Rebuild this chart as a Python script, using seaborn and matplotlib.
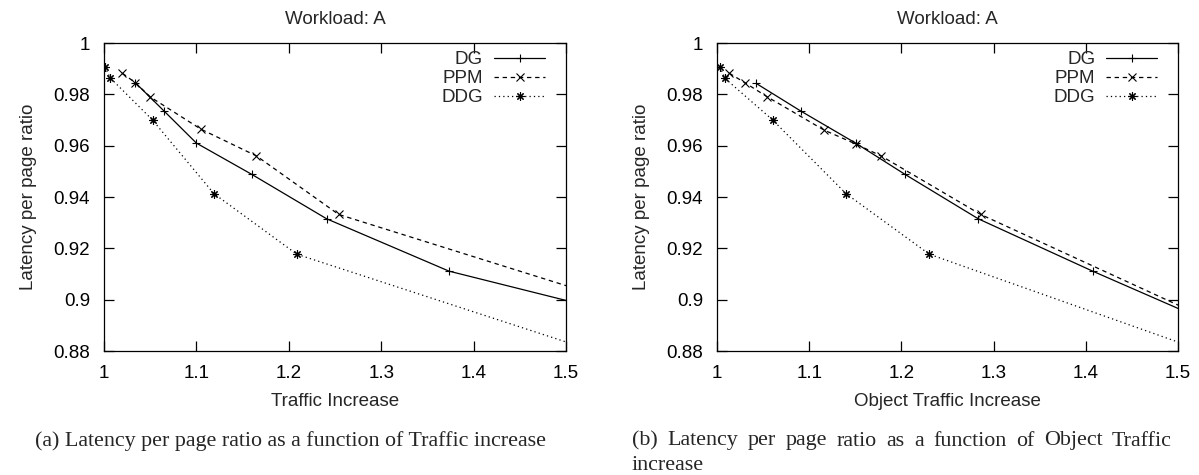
import matplotlib
matplotlib.use('Agg')
import matplotlib.pyplot as plt
import seaborn as sns
from matplotlib.ticker import FuncFormatter

# Workload A, latency per page ratio vs traffic increase
tr_dg_x = [1.034, 1.065, 1.100, 1.160, 1.241, 1.3735, 1.60]
tr_dg_y = [0.9845, 0.9735, 0.961, 0.9488, 0.9315, 0.9111, 0.8907]
tr_ppm_x = [1.020, 1.034, 1.050, 1.105, 1.165, 1.254, 1.60]
tr_ppm_y = [0.9882, 0.9845, 0.979, 0.9664, 0.956, 0.9332, 0.8942]
tr_ddg_x = [1.001, 1.0065, 1.0525, 1.119, 1.2087, 1.60]
tr_ddg_y = [0.9908, 0.9865, 0.970, 0.9413, 0.9177, 0.8718]

# Workload A, latency per page ratio vs object traffic increase
ob_dg_x = [1.0423, 1.0908, 1.1508, 1.204, 1.2834, 1.4075, 1.60]
ob_dg_y = [0.9843, 0.9735, 0.9609, 0.9488, 0.9315, 0.9111, 0.8809]
ob_ppm_x = [1.0134, 1.0304, 1.0546, 1.116, 1.1508, 1.178, 1.286, 1.60]
ob_ppm_y = [0.9882, 0.9845, 0.979, 0.9661, 0.9606, 0.956, 0.9332, 0.8814]
ob_ddg_x = [1.003, 1.0087, 1.0604, 1.14, 1.2303, 1.60]
ob_ddg_y = [0.9908, 0.9862, 0.970, 0.9413, 0.9177, 0.8708]

x_ticks = [1, 1.1, 1.2, 1.3, 1.4, 1.5]
y_ticks = [0.88, 0.9, 0.92, 0.94, 0.96, 0.98, 1]
series_names = ['DG', 'PPM', 'DDG']
titles = ['Workload: A', 'Workload: A']
x_labels = ['Traffic Increase', 'Object Traffic Increase']
y_label = 'Latency per page ratio'
caption_a = '(a) Latency per page ratio as a function of Traffic increase'
caption_b = '(b) Latency per page ratio as a function of Object Traffic increase'

sns.set_style('ticks')
plt.rcParams['font.family'] = ['Liberation Sans', 'DejaVu Sans']
plt.rcParams['font.size'] = 13.5

styles = {
    'DG': dict(marker='+', linestyle='-'),
    'PPM': dict(marker='x', linestyle=(0, (3.5, 3))),
    'DDG': dict(marker=(8, 2, 0), linestyle=(0, (1, 2.5))),
}

fig = plt.figure(figsize=(11.99, 4.75), dpi=100)
ax1 = fig.add_axes([104 / 1199, 1 - 351 / 475, 462 / 1199, 308 / 475])
ax2 = fig.add_axes([717 / 1199, 1 - 351 / 475, 461 / 1199, 308 / 475])

panels = [
    (ax1, [(tr_dg_x, tr_dg_y), (tr_ppm_x, tr_ppm_y), (tr_ddg_x, tr_ddg_y)]),
    (ax2, [(ob_dg_x, ob_dg_y), (ob_ppm_x, ob_ppm_y), (ob_ddg_x, ob_ddg_y)]),
]

for i, (ax, series) in enumerate(panels):
    for name, (xs, ys) in zip(series_names, series):
        sns.lineplot(x=xs, y=ys, ax=ax, color='black', lw=0.9, label=name,
                     sort=False, estimator=None, legend=False)
        line = ax.lines[-1]
        # seaborn drops these, so set them on the line itself
        line.set_marker(styles[name]['marker'])
        line.set_linestyle(styles[name]['linestyle'])
        line.set_markersize(6)
        line.set_markeredgewidth(0.8)
        line.set_markeredgecolor('black')
    ax.set_xlim(1, 1.5)
    ax.set_ylim(0.88, 1)
    ax.set_xticks(x_ticks)
    ax.set_yticks(y_ticks)
    ax.xaxis.set_major_formatter(FuncFormatter(lambda v, p: '%g' % v))
    ax.yaxis.set_major_formatter(FuncFormatter(lambda v, p: '%g' % v))
    ax.tick_params(direction='in', length=7, width=0.9, top=True, right=True,
                   colors='black', labelsize=13.5)
    ax.tick_params(axis='x', pad=10)
    ax.tick_params(axis='y', pad=10)
    for sp in ax.spines.values():
        sp.set_visible(True)
        sp.set_linewidth(0.9)
        sp.set_color('black')
    ax.set_title(titles[i], fontsize=13.5, pad=14)
    ax.set_xlabel(x_labels[i], fontsize=13.5, labelpad=8)
    ax.set_ylabel(y_label, fontsize=13.5, labelpad=12)
    ax.legend(loc='upper right', bbox_to_anchor=(441 / 462, 1 - 8 / 308),
              markerfirst=False, frameon=False, borderpad=0, borderaxespad=0,
              handlelength=2.7, handletextpad=0.6, labelspacing=0.1,
              fontsize=13.5)

# captions under the panels
serif = ['Liberation Serif', 'DejaVu Serif']
cap_size = 15.8
fig.text(35 / 1199, 1 - 441 / 475, caption_a, family=serif, fontsize=cap_size,
         va='center', ha='left')

# justified first line for caption (b), then the rest
words_b = caption_b.split()
line1, line2 = words_b[:-1], words_b[-1:]
x0, x1 = 632 / 1199, 1172 / 1199
y1, y2 = 1 - 441 / 475, 1 - 465 / 475
renderer = fig.canvas.get_renderer()
texts = [fig.text(x0, y1, w, family=serif, fontsize=cap_size, va='center', ha='left')
         for w in line1]
widths = [t.get_window_extent(renderer).width / fig.bbox.width for t in texts]
gap = (x1 - x0 - sum(widths)) / (len(texts) - 1)
pos = x0
for t, w in zip(texts, widths):
    t.set_x(pos)
    pos += w + gap
fig.text(x0, y2, ' '.join(line2), family=serif, fontsize=cap_size, va='center', ha='left')

plt.savefig('out.png', dpi=100)
